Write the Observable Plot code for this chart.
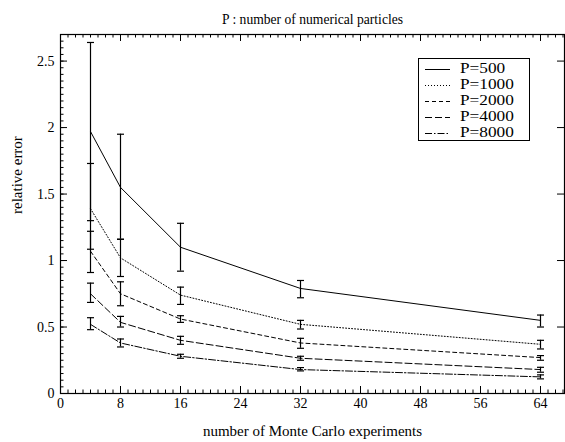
<!DOCTYPE html>
<html>
<head>
<meta charset="utf-8">
<script src="https://cdn.jsdelivr.net/npm/d3@7"></script>
<script src="https://cdn.jsdelivr.net/npm/@observablehq/plot@0.6"></script>
<style>
  html, body { margin: 0; padding: 0; background: white; }
  #wrap { position: relative; width: 565px; height: 442px; }
  #legend { position: absolute; left: 418px; top: 58px; width: 112px; height: 83px;
            border: 1px solid black; background: white; box-sizing: border-box;
            font-family: "Liberation Serif", serif; font-size: 15px; color: black; }
  .row { position: absolute; left: 0; height: 16px; width: 110px; }
  .row svg { position: absolute; left: 6px; top: 0; }
  .row span { position: absolute; left: 41px; top: -1px; line-height: 16px;
              transform: scaleX(1.15); transform-origin: left center; white-space: nowrap; }
</style>
</head>
<body>
<div id="wrap"><div id="legend"></div></div>
<script>
// ---- data ----
const experiments = [4, 8, 16, 32, 64];
const seriesNames = ["P=500", "P=1000", "P=2000", "P=4000", "P=8000"];
const mean500  = [1.97, 1.55, 1.10, 0.79, 0.55];
const lo500    = [1.30, 1.16, 0.92, 0.72, 0.50];
const hi500    = [2.64, 1.95, 1.28, 0.85, 0.59];
const mean1000 = [1.39, 1.02, 0.74, 0.52, 0.37];
const lo1000   = [1.085, 0.88, 0.67, 0.485, 0.335];
const hi1000   = [1.73, 1.16, 0.80, 0.55, 0.40];
const mean2000 = [1.07, 0.75, 0.56, 0.38, 0.27];
const lo2000   = [0.91, 0.66, 0.535, 0.34, 0.25];
const hi2000   = [1.22, 0.84, 0.585, 0.415, 0.285];
const mean4000 = [0.75, 0.535, 0.40, 0.265, 0.18];
const lo4000   = [0.685, 0.50, 0.37, 0.25, 0.16];
const hi4000   = [0.83, 0.58, 0.43, 0.28, 0.197];
const mean8000 = [0.52, 0.38, 0.28, 0.18, 0.125];
const lo8000   = [0.48, 0.35, 0.265, 0.17, 0.11];
const hi8000   = [0.57, 0.41, 0.295, 0.195, 0.14];
const xTicks = [0, 8, 16, 24, 32, 40, 48, 56, 64];
const yTicks = [0, 0.5, 1, 1.5, 2, 2.5];
const yTickLabels = ["0", "0.5", "1", "1.5", "2", "2.5"];
const titleText = "P : number of numerical particles";
const xLabel = "number of Monte Carlo experiments";
const yLabel = "relative error";

// ---- styles ----
const dashes = ["none", "1,2", "4,3", "7,3", "7,2,1.5,2"];

const means = [mean500, mean1000, mean2000, mean4000, mean8000];
const los = [lo500, lo1000, lo2000, lo4000, lo8000];
const his = [hi500, hi1000, hi2000, hi4000, hi8000];
const rows = [];
seriesNames.forEach((s, i) => experiments.forEach((m, j) =>
  rows.push({series: s, idx: i, m, v: means[i][j], lo: los[i][j], hi: his[i][j]})));

const xMinor = d3.range(0, 68, 1);
const yMinor = d3.range(0, 2.7001, 0.05).map(v => +v.toFixed(2));

const W = 565, H = 442, mt = 34, mb = 49, ml = 60, mr = 1;
const pw = W - ml - mr, ph = H - mt - mb;
const capSymbol = { draw(ctx, size) { const r = Math.sqrt(size / Math.PI); ctx.moveTo(-r, 0); ctx.lineTo(r, 0); } };

const marks = [
  // inward ticks: bottom, top, left, right
  Plot.tickX(xMinor, {x: d => d, insetTop: ph - 3.5, stroke: "black"}),
  Plot.tickX(xTicks, {x: d => d, insetTop: ph - 7, stroke: "black"}),
  Plot.tickX(xMinor, {x: d => d, insetBottom: ph - 3.5, stroke: "black"}),
  Plot.tickX(xTicks, {x: d => d, insetBottom: ph - 7, stroke: "black"}),
  Plot.tickY(yMinor, {y: d => d, insetRight: pw - 3.5, stroke: "black"}),
  Plot.tickY(yTicks, {y: d => d, insetRight: pw - 7, stroke: "black"}),
  Plot.tickY(yTicks, {y: d => d, insetLeft: pw - 7, stroke: "black"}),
  Plot.frame({stroke: "black", strokeWidth: 1.2}),
  Plot.axisX(xTicks, {tickSize: 0, tickPadding: 5, label: null, fontSize: 14}),
  Plot.axisY(yTicks, {tickSize: 0, tickPadding: 6, label: null, fontSize: 14,
                      tickFormat: (d, i) => yTickLabels[yTicks.indexOf(d)]}),
  // error bars
  Plot.ruleX(rows, {x: "m", y1: "lo", y2: "hi", stroke: "black", strokeWidth: 1.2}),
  Plot.dot(rows, {x: "m", y: "lo", symbol: capSymbol, r: 3.5, stroke: "black", strokeWidth: 1.2, fill: "none"}),
  Plot.dot(rows, {x: "m", y: "hi", symbol: capSymbol, r: 3.5, stroke: "black", strokeWidth: 1.2, fill: "none"}),
  // lines
  ...seriesNames.map((s, i) => Plot.line(rows.filter(r => r.series === s),
      {x: "m", y: "v", stroke: "black", strokeWidth: 1, strokeDasharray: dashes[i]})),
  // text
  Plot.text([titleText], {text: d => d, frameAnchor: "top", dy: -20, fontSize: 13.6}),
  Plot.text([xLabel], {text: d => d, frameAnchor: "bottom", dy: 42, fontSize: 15}),
  Plot.text([yLabel], {text: d => d, frameAnchor: "left", dx: -43, rotate: -90, fontSize: 15})
];

const chart = Plot.plot({
  width: W, height: H, marginTop: mt, marginBottom: mb, marginLeft: ml, marginRight: mr,
  x: {domain: [0, 67.2], axis: null},
  y: {domain: [0, 2.7], axis: null},
  style: {fontFamily: "'Liberation Serif', serif", fontSize: "14px", color: "black", background: "white"},
  marks
});
document.getElementById("wrap").prepend(chart);

// legend
const legend = document.getElementById("legend");
seriesNames.forEach((s, i) => {
  const row = document.createElement("div");
  row.className = "row";
  row.style.top = (2 + i * 16) + "px";
  row.innerHTML = `<svg width="30" height="16"><line x1="0" x2="25" y1="8.5" y2="8.5" stroke="black" stroke-width="1" stroke-dasharray="${dashes[i]}"/></svg><span>${s}</span>`;
  legend.appendChild(row);
});
</script>
</body>
</html>
